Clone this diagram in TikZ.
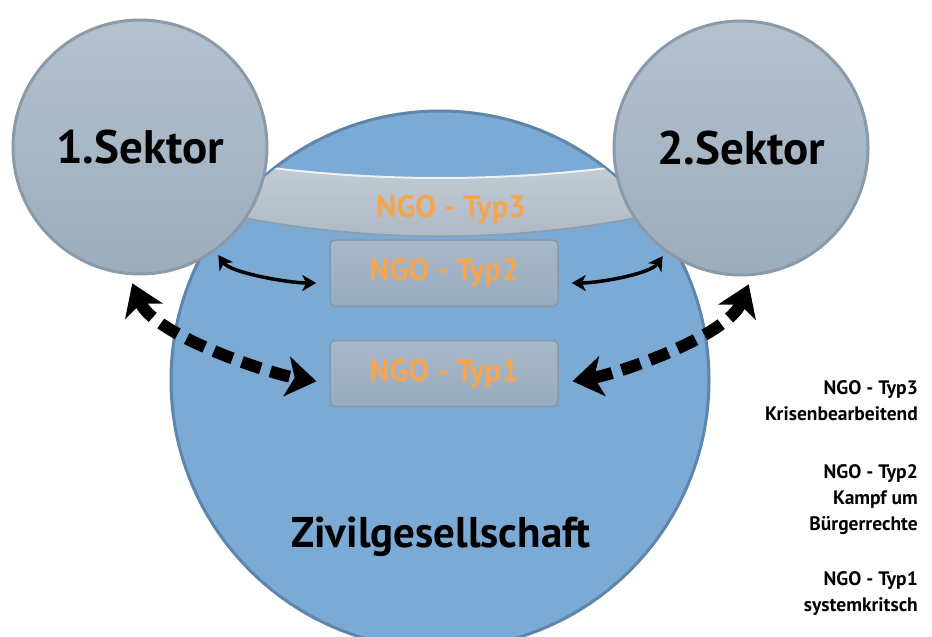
\documentclass[tikz,border=0pt]{standalone}
\usepackage{fontspec}
\setmainfont{PT Sans}
\usepackage{xcolor}
\usetikzlibrary{arrows.meta, positioning}

\definecolor{zivilfill}{HTML}{7BAAD5}
\definecolor{zivilline}{HTML}{5E86AC}
\definecolor{earfill}{HTML}{A1B2C2}
\definecolor{earline}{HTML}{8A9AA8}
\definecolor{bandtop}{HTML}{C6CFD8}
\definecolor{bandbot}{HTML}{AAB6C1}
\definecolor{bandline}{HTML}{8E9CA9}
\definecolor{boxfill}{HTML}{98ABBE}
\definecolor{boxline}{HTML}{8599AC}
\definecolor{ngoorange}{HTML}{F5A550}

\begin{document}
\begin{tikzpicture}[
  x=1pt, y=-1pt,
  zivil/.style={circle, draw=zivilline, line width=3pt, fill=zivilfill, minimum size=538pt, inner sep=0pt},
  sektor/.style={circle, draw=earline, line width=3pt, top color=earfill!80!white, bottom color=earfill!97!black,
    minimum size=254pt, inner sep=0pt, font=\fontsize{47}{47}\bfseries},
  ngo/.style={rectangle, rounded corners=5pt, draw=boxline, line width=1.5pt, top color=boxfill!85!white,
    bottom color=boxfill, minimum width=228pt, minimum height=66pt, text=ngoorange, font=\fontsize{31}{31}\bfseries},
  ngotext/.style={text=ngoorange, font=\fontsize{31}{31}\bfseries},
  legend/.style={align=right, anchor=north east, inner sep=0pt, font=\fontsize{19.5}{26}\bfseries},
  link/.style={{Stealth[length=14pt, width=16pt, inset=4pt]}-{Stealth[length=14pt, width=16pt, inset=4pt]}, line width=3.5pt},
  bigedge/.style={{Stealth[length=30pt, width=40pt, inset=8pt]}-{Stealth[length=30pt, width=40pt, inset=8pt]},
    line width=12pt, dash pattern=on 20pt off 10pt}
]
\useasboundingbox (0,0) rectangle (932,637);
\clip (0,0) rectangle (932,637);

\node[zivil] (zivil) at (440,380) {};

\begin{scope}
  \clip (zivil.center) circle[radius=268];
  \shade[top color=bandtop, bottom color=bandbot] (180,154) .. controls (353,186) and (527,186) .. (700,154)
    -- (700,204) .. controls (527,247) and (353,247) .. (180,204) -- cycle;
  \draw[white!70!bandtop, line width=2pt] (180,154) .. controls (353,186) and (527,186) .. (700,154);
  \draw[bandline, line width=1.5pt] (180,204) .. controls (353,247) and (527,247) .. (700,204);
\end{scope}

\node[ngotext] (typ3) at (451,210) {NGO - Typ3};
\node[ngo] (typ2) at (444,273) {NGO - Typ2};
\node[ngo, below=33pt of typ2] (typ1) {NGO - Typ1};

\node[sektor] (sek1) at (140,147) {1.Sektor};
\node[sektor] (sek2) at (741,148) {2.Sektor};

\node[font=\fontsize{43}{43}\bfseries] (ztext) at (441,537) {Zivilgesellschaft};

\draw[link, shorten <=5pt, shorten >=13pt] (sek1.-54) .. controls +(15,22) and +(-40,0) .. ([yshift=-10pt]typ2.west);
\draw[link, shorten >=5pt, shorten <=13pt] ([yshift=-10pt]typ2.east) .. controls +(40,0) and +(-15,22) .. (sek2.234);

\draw[bigedge, shorten <=9pt, shorten >=13pt] (sek1.265) .. controls +(25,60) and +(-60,-10) .. ([yshift=-10pt]typ1.west);
\draw[bigedge, shorten >=9pt, shorten <=14pt] ([yshift=-10pt]typ1.east) .. controls +(60,-10) and +(-25,60) .. (sek2.275);

\node[legend] (leg3) at (918,380) {NGO - Typ3\\Krisenbearbeitend};
\node[legend] (leg2) at (918,464) {NGO - Typ2\\Kampf um\\Bürgerrechte};
\node[legend] (leg1) at (918,571) {NGO - Typ1\\systemkritsch};
\end{tikzpicture}
\end{document}
